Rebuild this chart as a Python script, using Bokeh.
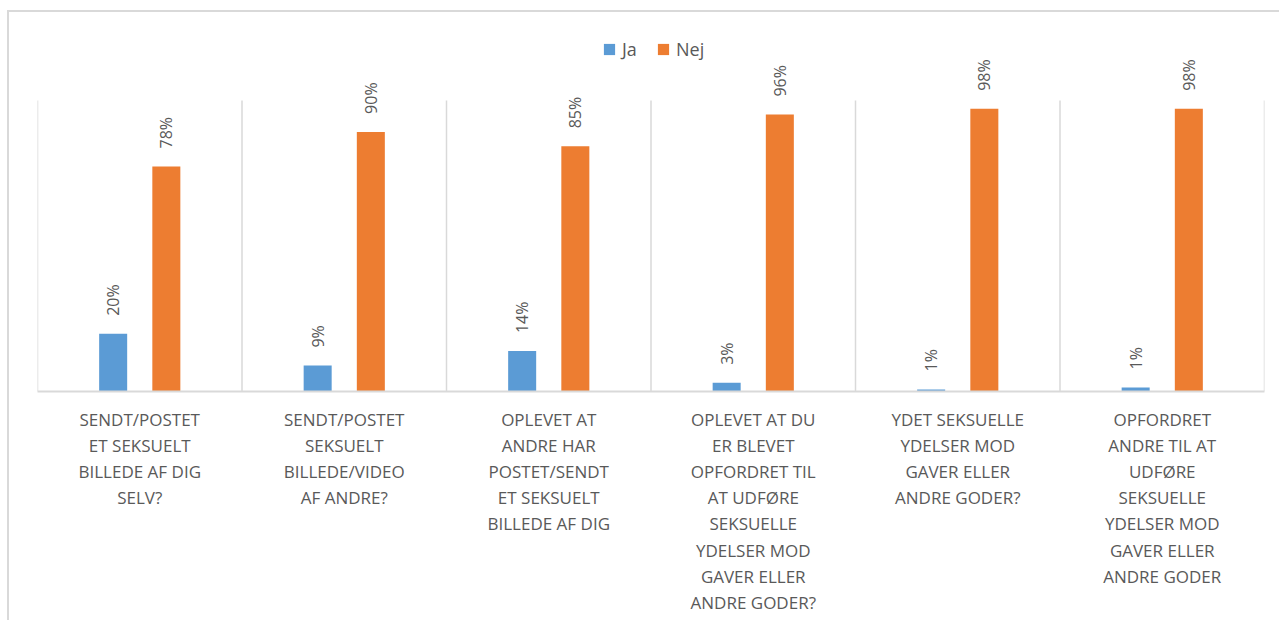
import math
from bokeh.plotting import figure
from bokeh.models import ColumnDataSource, FixedTicker, Legend, LegendItem, Range1d
from bokeh.transform import dodge
from bokeh.core.properties import value
from bokeh.embed import file_html
from bokeh.resources import INLINE

categories = [
    "SENDT/POSTET\nET SEKSUELT\nBILLEDE AF DIG\nSELV?",
    "SENDT/POSTET\nSEKSUELT\nBILLEDE/VIDEO\nAF ANDRE?",
    "OPLEVET AT\nANDRE HAR\nPOSTET/SENDT\nET SEKSUELT\nBILLEDE AF DIG",
    "OPLEVET AT DU\nER BLEVET\nOPFORDRET TIL\nAT UDFØRE\nSEKSUELLE\nYDELSER MOD\nGAVER ELLER\nANDRE GODER?",
    "YDET SEKSUELLE\nYDELSER MOD\nGAVER ELLER\nANDRE GODER?",
    "OPFORDRET\nANDRE TIL AT\nUDFØRE\nSEKSUELLE\nYDELSER MOD\nGAVER ELLER\nANDRE GODER",
]
ja = [20, 9, 14, 3, 0.7, 1.4]
nej = [78, 90, 85, 96, 98, 98]
series = ["Ja", "Nej"]
colors = ["#5B9BD5", "#ED7D31"]

FONT = "Open Sans"
GRAY = "#595959"
LINE = "#D9D9D9"
YMAX = 100.9

n = len(categories)
xs = [i + 0.5 for i in range(n)]
source = ColumnDataSource(dict(
    x=xs, ja=ja, nej=nej,
    ja_lbl=[f"{round(v)}%" for v in ja],
    nej_lbl=[f"{round(v)}%" for v in nej],
))

p = figure(width=1272, height=610, x_range=Range1d(0, n),
           y_range=Range1d(0, 131.4), output_backend="svg", toolbar_location=None,
           min_border_left=28, min_border_right=17, min_border_top=0, min_border_bottom=231,
           styles={"margin-left": "7px", "margin-top": "10px",
                   "border-top": "2px solid #D9D9D9", "border-left": "2px solid #D9D9D9"})
p.outline_line_color = None
p.background_fill_color = "white"
p.border_fill_color = "white"

# category separators
bounds = list(range(n + 1))
p.segment(x0=bounds, y0=[0] * len(bounds), x1=bounds, y1=[YMAX] * len(bounds),
          line_color=LINE, line_width=1.5)

off = 0.13
bw = 0.137
r1 = p.vbar(x=dodge("x", -off), top="ja", width=bw, source=source, fill_color=colors[0], line_color=None)
r2 = p.vbar(x=dodge("x", off), top="nej", width=bw, source=source, fill_color=colors[1], line_color=None)

for col, lbl, o in [("ja", "ja_lbl", -off), ("nej", "nej_lbl", off)]:
    p.text(x=dodge("x", o), y=col, text=lbl, source=source, angle=math.pi / 2,
           text_align="left", text_baseline="middle", y_offset=-18,
           text_font=value(FONT), text_font_size="16px", text_color=GRAY)

p.yaxis.visible = False
p.ygrid.grid_line_color = None
p.xgrid.grid_line_color = None

ax = p.xaxis[0]
ax.ticker = FixedTicker(ticks=xs)
ax.major_label_overrides = {x: c for x, c in zip(xs, categories)}
ax.axis_line_color = LINE
ax.axis_line_width = 2
ax.major_tick_line_color = None
ax.minor_tick_line_color = None
ax.major_label_standoff = 10
ax.major_label_text_font = FONT
ax.major_label_text_font_size = "17px"
ax.major_label_text_color = GRAY
ax.major_label_text_line_height = 1.14

legend = Legend(items=[LegendItem(label=series[0], renderers=[r1]),
                       LegendItem(label=series[1], renderers=[r2])],
                orientation="horizontal", location=(565, 330),
                glyph_width=14, glyph_height=14, label_height=20,
                label_text_font=FONT, label_text_font_size="18px", label_text_color=GRAY,
                label_standoff=6, spacing=14, padding=4, margin=0,
                border_line_color=None, background_fill_alpha=0)
p.add_layout(legend)

open("out.html", "w").write(file_html(p, INLINE))
